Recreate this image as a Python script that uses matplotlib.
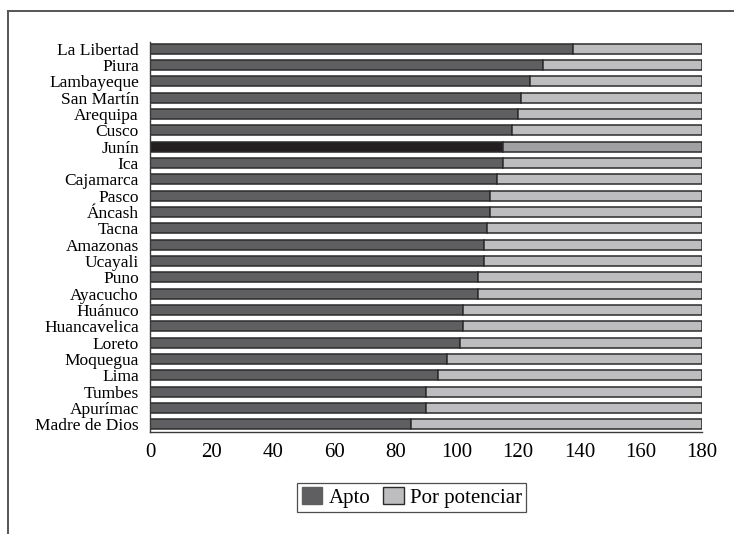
import matplotlib
matplotlib.use('Agg')
import matplotlib.pyplot as plt
from matplotlib.patches import Patch
from matplotlib.lines import Line2D

font = {'family': 'Liberation Serif', 'size': 12}
matplotlib.rc('font', **font)

regiones = ['La Libertad', 'Piura', 'Lambayeque', 'San Martín', 'Arequipa', 'Cusco',
            'Junín', 'Ica', 'Cajamarca', 'Pasco', 'Áncash', 'Tacna', 'Amazonas',
            'Ucayali', 'Puno', 'Ayacucho', 'Huánuco', 'Huancavelica', 'Loreto',
            'Moquegua', 'Lima', 'Tumbes', 'Apurímac', 'Madre de Dios']
apto = [138, 128, 124, 121, 120, 118, 115, 115, 113, 111, 111, 110, 109,
        109, 107, 107, 102, 102, 101, 97, 94, 90, 90, 85]
total = 180
por_potenciar = [total - a for a in apto]
destacado = 'Junín'

c_apto = '#5f5f61'
c_pot = '#bdbdbf'
c_apto_d = '#231f20'
c_pot_d = '#a0a0a2'
c_edge = '#2b2b2b'

fig = plt.figure(figsize=(7.34, 5.34), dpi=100)
ax = fig.add_axes([0.2044, 0.191, 0.752, 0.731])

y = list(range(len(regiones)))
col_a = [c_apto_d if r == destacado else c_apto for r in regiones]
col_p = [c_pot_d if r == destacado else c_pot for r in regiones]
ax.barh(y, apto, height=0.62, color=col_a, edgecolor=c_edge, linewidth=1.1)
ax.barh(y, por_potenciar, left=apto, height=0.62, color=col_p, edgecolor=c_edge, linewidth=1.1)

ax.set_yticks(y)
ax.set_yticklabels(regiones)
ax.set_ylim(len(regiones) - 0.53, -0.43)
ax.set_xlim(0, 180)
ax.set_xticks(range(0, 181, 20))
ax.tick_params(axis='x', length=0, labelsize=15, pad=8)
ax.tick_params(axis='y', length=0, labelsize=12.5, pad=8)
for s in ['top', 'right']:
    ax.spines[s].set_visible(False)
for s in ['left', 'bottom']:
    ax.spines[s].set_color('#3a3a3a')
    ax.spines[s].set_linewidth(1)

handles = [Patch(facecolor=c_apto, edgecolor=c_apto, label='Apto'),
           Patch(facecolor=c_pot, edgecolor=c_edge, label='Por potenciar')]
leg = fig.legend(handles=handles, loc='center', bbox_to_anchor=(0.561, 0.069),
                 ncol=2, fontsize=15, fancybox=False, frameon=True,
                 handlelength=1.0, handleheight=0.9, handletextpad=0.3,
                 columnspacing=0.6, borderpad=0.2, borderaxespad=0)
leg.get_frame().set_edgecolor('#222222')
leg.get_frame().set_linewidth(0.9)

# marco de la figura (solo arriba e izquierda)
fig.add_artist(Line2D([0.0105, 1.0], [0.980, 0.980], color='#555555', lw=1.4,
                      transform=fig.transFigure))
fig.add_artist(Line2D([0.0105, 0.0105], [0.0, 0.980], color='#555555', lw=1.4,
                      transform=fig.transFigure))

fig.savefig('out.png', dpi=100)
